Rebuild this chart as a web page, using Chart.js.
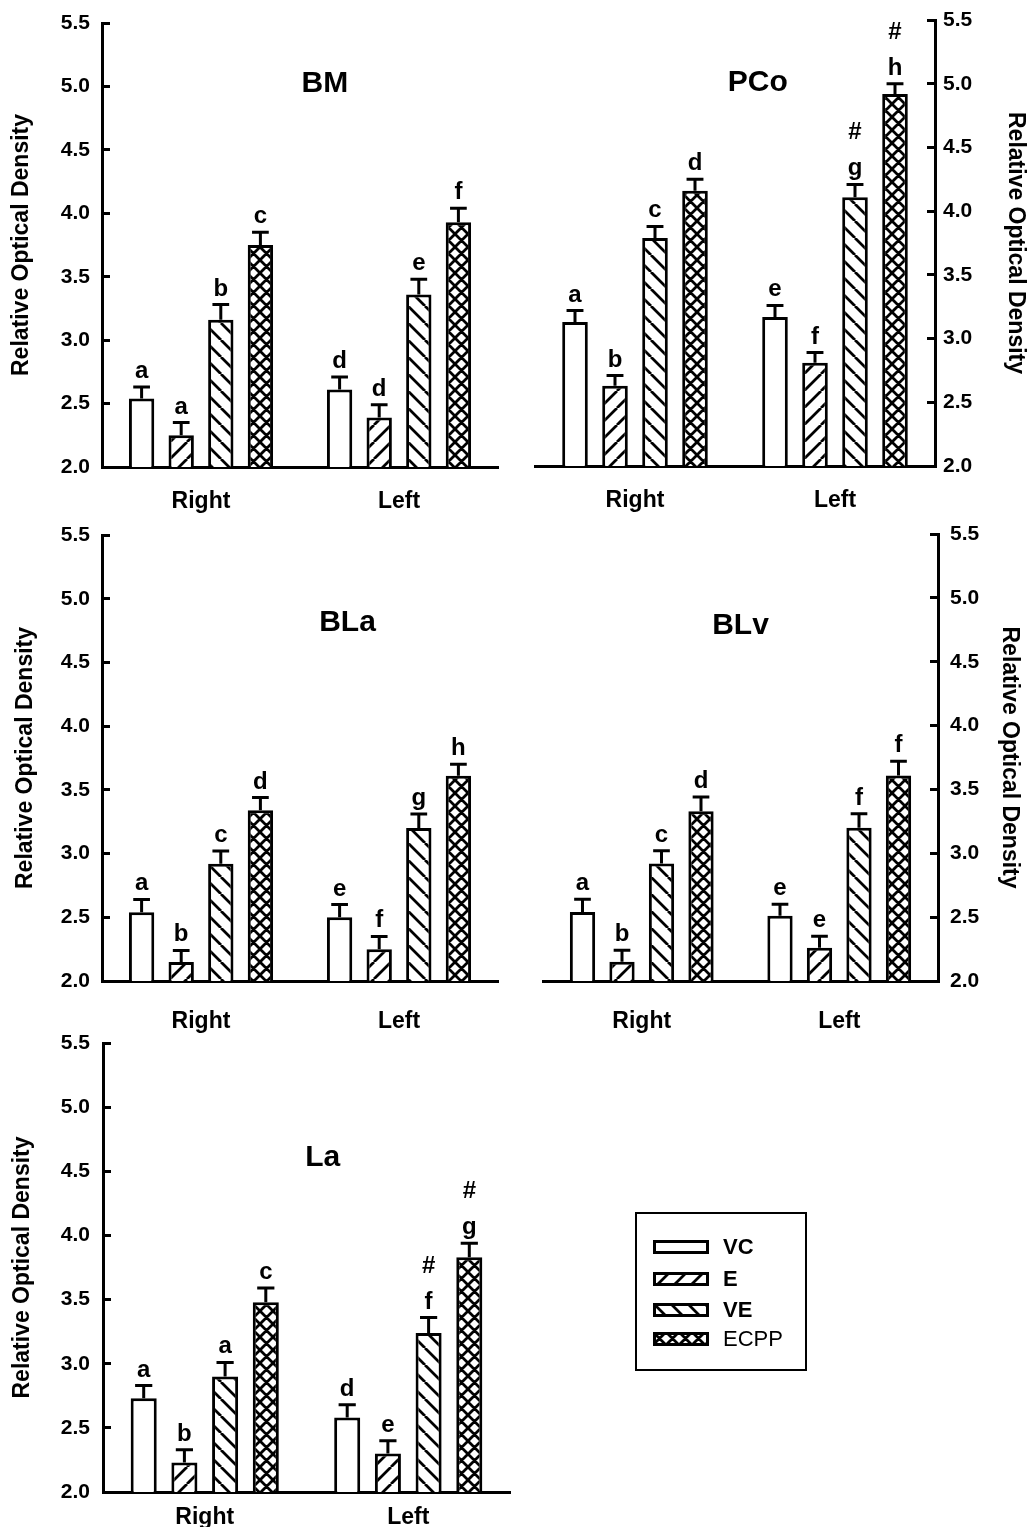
<!DOCTYPE html>
<html>
<head>
<meta charset="utf-8">
<script src="https://cdn.jsdelivr.net/npm/chart.js@4.4.1/dist/chart.umd.min.js"></script>
<style>
  body { margin: 0; background: #fff; }
  #page { position: relative; width: 1029px; height: 1527px; overflow: hidden; }
  canvas { position: absolute; }
  #legend { position: absolute; left: 635px; top: 1212px; width: 172px; height: 159px;
    border: 2px solid #000; box-sizing: border-box; font-family: "Liberation Sans", Arial, sans-serif; }
  .row { position: absolute; left: 16px; height: 26px; display: flex; align-items: center; }
  .row canvas { position: static; }
  .row span { margin-left: 14px; font-size: 22px; color: #000; }
</style>
</head>
<body>
<div id="page">
  <canvas id="c1"></canvas>
  <canvas id="c2"></canvas>
  <canvas id="c3"></canvas>
  <canvas id="c4"></canvas>
  <canvas id="c5"></canvas>
  <div id="legend"></div>
</div>
<script>
// groups on the x axis and the four treatments
var groups = ['Right', 'Left'];
var treatments = ['VC', 'E', 'VE', 'ECPP'];
var yTicks = [2.0, 2.5, 3.0, 3.5, 4.0, 4.5, 5.0, 5.5];
var axisTitle = 'Relative Optical Density';

// order in each array: Right VC, E, VE, ECPP, then Left VC, E, VE, ECPP
var bmMean = [2.54, 2.25, 3.16, 3.75, 2.61, 2.39, 3.36, 3.93];
var bmSem = [0.09, 0.10, 0.12, 0.10, 0.10, 0.10, 0.12, 0.11];
var bmLetters = ['a', 'a', 'b', 'c', 'd', 'd', 'e', 'f'];
var bmHash = [0, 0, 0, 0, 0, 0, 0, 0];

var pcoMean = [3.13, 2.63, 3.79, 4.16, 3.17, 2.81, 4.11, 4.92];
var pcoSem = [0.09, 0.08, 0.09, 0.09, 0.09, 0.08, 0.10, 0.08];
var pcoLetters = ['a', 'b', 'c', 'd', 'e', 'f', 'g', 'h'];
var pcoHash = [0, 0, 0, 0, 0, 0, 1, 1];

var blaMean = [2.54, 2.15, 2.92, 3.34, 2.50, 2.25, 3.20, 3.61];
var blaSem = [0.10, 0.09, 0.10, 0.10, 0.10, 0.10, 0.11, 0.09];
var blaLetters = ['a', 'b', 'c', 'd', 'e', 'f', 'g', 'h'];
var blaHash = [0, 0, 0, 0, 0, 0, 0, 0];

var blvMean = [2.54, 2.15, 2.92, 3.33, 2.51, 2.26, 3.20, 3.61];
var blvSem = [0.10, 0.09, 0.10, 0.11, 0.09, 0.09, 0.11, 0.11];
var blvLetters = ['a', 'b', 'c', 'd', 'e', 'e', 'f', 'f'];
var blvHash = [0, 0, 0, 0, 0, 0, 0, 0];

var laMean = [2.73, 2.23, 2.90, 3.48, 2.58, 2.30, 3.24, 3.83];
var laSem = [0.10, 0.10, 0.11, 0.11, 0.10, 0.10, 0.12, 0.11];
var laLetters = ['a', 'b', 'a', 'c', 'd', 'e', 'f', 'g'];
var laHash = [0, 0, 0, 0, 0, 0, 1, 1];

var FONT = '"Liberation Sans", Arial, sans-serif';
Chart.defaults.font.family = FONT;
Chart.defaults.color = '#000';

// hatch fills
function makeTile(kind) {
    var s = kind === 'ECPP' ? 13 : 17;
    var c = document.createElement('canvas');
    c.width = s; c.height = s;
    var g = c.getContext('2d');
    g.fillStyle = '#fff';
    g.fillRect(0, 0, s, s);
    if (kind === 'VC') return c;
    g.strokeStyle = '#000';
    g.lineWidth = 2.8;
    g.beginPath();
    [-s, 0, s].forEach(function (d) {
        if (kind === 'E' || kind === 'ECPP') { g.moveTo(d, s); g.lineTo(d + s, 0); }
        if (kind === 'VE' || kind === 'ECPP') { g.moveTo(d, 0); g.lineTo(d + s, s); }
    });
    g.stroke();
    return c;
}
var patCtx = document.createElement('canvas').getContext('2d');
var fills = treatments.map(function (t) { return patCtx.createPattern(makeTile(t), 'repeat'); });

// error bars, letters and panel title
var extras = {
    id: 'extras',
    afterDatasetsDraw: function (chart, args, o) {
        var ctx = chart.ctx;
        var ys = chart.scales.y;
        ctx.save();
        ctx.strokeStyle = '#000';
        ctx.fillStyle = '#000';
        ctx.lineWidth = 3;
        ctx.textAlign = 'center';
        ctx.textBaseline = 'alphabetic';
        ctx.font = 'bold 24px ' + FONT;
        chart.data.datasets.forEach(function (ds, i) {
            chart.getDatasetMeta(i).data.forEach(function (bar, j) {
                var k = j * 4 + i;
                var top = ys.getPixelForValue(ds.data[j] + o.sem[k]);
                var half = bar.width * 0.33;
                ctx.beginPath();
                ctx.moveTo(bar.x, bar.y);
                ctx.lineTo(bar.x, top);
                ctx.moveTo(bar.x - half, top);
                ctx.lineTo(bar.x + half, top);
                ctx.stroke();
                ctx.fillText(o.letters[k], bar.x, top - 9);
                if (o.hash[k]) ctx.fillText('#', bar.x, top - 45);
            });
        });
        var a = chart.chartArea;
        ctx.font = 'bold 30px ' + FONT;
        ctx.textBaseline = 'middle';
        ctx.fillText(o.title, a.left + o.tx * (a.right - a.left), a.top + o.ty * (a.bottom - a.top));
        ctx.restore();
    }
};

var panels = [
    { id: 'c1', title: 'BM', mean: bmMean, sem: bmSem, letters: bmLetters, hash: bmHash,
      box: [0, 0, 515, 520], pad: [0, 17, 23], side: 'left', yw: 102, tickPad: 20, titlePad: 8, xh: 53, xPad: 21, tx: 0.563, ty: 0.137 },
    { id: 'c2', title: 'PCo', mean: pcoMean, sem: pcoSem, letters: pcoLetters, hash: pcoHash,
      box: [515, 0, 514, 520], pad: [20, 0, 20], side: 'right', yw: 94, tickPad: 16, titlePad: 0, xh: 54, xPad: 21, tx: 0.557, ty: 0.141 },
    { id: 'c3', title: 'BLa', mean: blaMean, sem: blaSem, letters: blaLetters, hash: blaHash,
      box: [0, 520, 515, 515], pad: [0, 17, 15], side: 'left', yw: 102, tickPad: 20, titlePad: 12, xh: 54, xPad: 27, tx: 0.62, ty: 0.197 },
    { id: 'c4', title: 'BLv', mean: blvMean, sem: blvSem, letters: blvLetters, hash: blvHash,
      box: [515, 520, 514, 515], pad: [28, 0, 14], side: 'right', yw: 91, tickPad: 20, titlePad: 6, xh: 54, xPad: 27, tx: 0.5, ty: 0.206 },
    { id: 'c5', title: 'La', mean: laMean, sem: laSem, letters: laLetters, hash: laHash,
      box: [0, 1025, 560, 502], pad: [0, 50, 18], side: 'left', yw: 103, tickPad: 21, titlePad: 9, xh: 35, xPad: 12, tx: 0.54, ty: 0.256 }
];

panels.forEach(function (p) {
    var cv = document.getElementById(p.id);
    cv.style.left = p.box[0] + 'px';
    cv.style.top = p.box[1] + 'px';
    cv.width = p.box[2];
    cv.height = p.box[3];
    cv.style.width = p.box[2] + 'px';
    cv.style.height = p.box[3] + 'px';

    var datasets = treatments.map(function (t, i) {
        return {
            label: t,
            data: [p.mean[i], p.mean[i + 4]],
            backgroundColor: fills[i],
            borderColor: '#000',
            borderWidth: 3,
            borderSkipped: 'bottom',
            barPercentage: 0.64,
            categoryPercentage: 0.8
        };
    });

    new Chart(cv.getContext('2d'), {
        type: 'bar',
        data: { labels: groups, datasets: datasets },
        plugins: [extras],
        options: {
            responsive: false,
            animation: false,
            devicePixelRatio: 1,
            layout: { padding: { left: p.pad[0], right: p.pad[1], top: p.pad[2], bottom: 0 } },
            plugins: {
                legend: { display: false },
                tooltip: { enabled: false },
                extras: { title: p.title, sem: p.sem, letters: p.letters, hash: p.hash, tx: p.tx, ty: p.ty }
            },
            scales: {
                x: {
                    grid: { display: false, drawTicks: false },
                    border: { display: true, width: 3, color: '#000' },
                    ticks: { padding: p.xPad, color: '#000', font: { size: 23, weight: 'bold' } },
                    afterFit: function (s) { s.height = p.xh; }
                },
                y: {
                    position: p.side,
                    min: yTicks[0],
                    max: yTicks[yTicks.length - 1],
                    afterBuildTicks: function (s) { s.ticks = yTicks.map(function (v) { return { value: v }; }); },
                    ticks: {
                        padding: p.tickPad, color: '#000', font: { size: 21, weight: 'bold' },
                        callback: function (v) { return Number(v).toFixed(1); }
                    },
                    grid: { display: true, drawOnChartArea: false, drawTicks: true, tickLength: -8, tickWidth: 3, tickColor: '#000' },
                    border: { display: true, width: 3, color: '#000' },
                    title: { display: true, text: axisTitle, color: '#000', font: { size: 23, weight: 'bold' }, padding: { top: p.titlePad, bottom: 0 } },
                    afterFit: function (s) {
                        s.width = p.yw;
                        s.paddingTop = 0;
                        s.paddingBottom = 0;
                    }
                }
            }
        }
    });
});

// legend box
var legend = document.getElementById('legend');
var rowTops = [20, 52, 83, 112];
treatments.forEach(function (t, i) {
    var row = document.createElement('div');
    row.className = 'row';
    row.style.top = rowTops[i] + 'px';
    var sw = document.createElement('canvas');
    sw.width = 56; sw.height = 14;
    var g = sw.getContext('2d');
    g.fillStyle = fills[i];
    g.fillRect(0, 0, 56, 14);
    g.strokeStyle = '#000';
    g.lineWidth = 3;
    g.strokeRect(1.5, 1.5, 53, 11);
    var label = document.createElement('span');
    label.textContent = t;
    label.style.fontWeight = t === 'ECPP' ? 'normal' : 'bold';
    row.appendChild(sw);
    row.appendChild(label);
    legend.appendChild(row);
});
</script>
</body>
</html>
